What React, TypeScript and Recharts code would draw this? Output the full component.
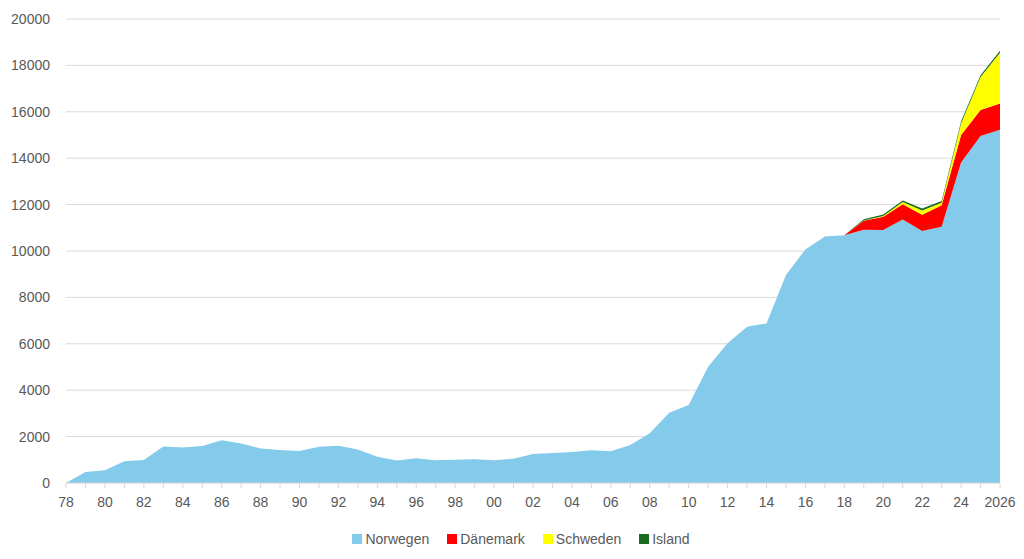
import React from 'react';
import { AreaChart, Area, XAxis, YAxis, CartesianGrid, Legend } from 'recharts';

const years = [1978,1979,1980,1981,1982,1983,1984,1985,1986,1987,1988,1989,1990,1991,1992,1993,1994,1995,1996,1997,1998,1999,2000,2001,2002,2003,2004,2005,2006,2007,2008,2009,2010,2011,2012,2013,2014,2015,2016,2017,2018,2019,2020,2021,2022,2023,2024,2025,2026];
const norwegen = [0,470,550,940,990,1570,1530,1600,1840,1700,1490,1420,1380,1565,1610,1440,1135,970,1065,980,1005,1020,985,1050,1250,1290,1335,1410,1365,1640,2140,3030,3360,5010,6020,6740,6880,8970,10070,10620,10680,10920,10900,11360,10860,11050,13820,14960,15230];
const daenemark = [0,0,0,0,0,0,0,0,0,0,0,0,0,0,0,0,0,0,0,0,0,0,0,0,0,0,0,0,0,0,0,0,0,0,0,0,0,0,0,0,0,380,580,660,700,920,1180,1120,1130];
const schweden = [0,0,0,0,0,0,0,0,0,0,0,0,0,0,0,0,0,0,0,0,0,0,0,0,0,0,0,0,0,0,0,0,0,0,0,0,0,0,0,0,0,20,30,90,190,110,500,1420,2180];
const island = [0,0,0,0,0,0,0,0,0,0,0,0,0,0,0,0,0,0,0,0,0,0,0,0,0,0,0,0,0,0,0,0,0,0,0,0,0,0,0,0,0,50,60,70,80,80,80,80,90];
const yTicks = [0,2000,4000,6000,8000,10000,12000,14000,16000,18000,20000];

const seriesNames = ['Norwegen', 'Dänemark', 'Schweden', 'Island'];
const seriesColors = ['#83CAEB', '#FF0000', '#FFFF00', '#196B24'];

const data = years.map((y, i) => ({
  year: y,
  Norwegen: norwegen[i],
  'Dänemark': daenemark[i],
  Schweden: schweden[i],
  Island: island[i],
}));

const fmtX = (v: number) => {
  if (v === 2026) return '2026';
  if (v % 2 !== 0) return '';
  return String(v % 100).padStart(2, '0');
};

const FONT = '"Liberation Sans", Arial, sans-serif';
const TXT = '#595959';

const LegendContent = () => (
  <div style={{ display: 'flex', justifyContent: 'center', fontFamily: FONT, fontSize: 14, color: TXT, paddingLeft: 34 }}>
    {seriesNames.map((n, i) => (
      <div key={n} style={{ display: 'flex', alignItems: 'center', marginRight: 18 }}>
        <div style={{ width: 10, height: 10, background: seriesColors[i], marginRight: 3 }} />
        <span>{n}</span>
      </div>
    ))}
  </div>
);

export default function App() {
  return (
    <div style={{ width: 1010, height: 545 }}>
      <AreaChart width={1010} height={545} data={data} margin={{ top: 11, right: 18, left: 0, bottom: 40 }}>
        <CartesianGrid horizontal vertical={false} stroke="#d9d9d9" />
        <XAxis
          dataKey="year"
          type="number"
          domain={[1978, 2026]}
          ticks={years}
          interval={0}
          tickFormatter={fmtX}
          height={30}
          stroke="#d9d9d9"
          tickSize={5}
          tickMargin={9}
          tick={{ fill: TXT, fontSize: 14, fontFamily: FONT }}
        />
        <YAxis
          domain={[0, 20000]}
          ticks={yTicks}
          width={58}
          axisLine={false}
          tickLine={false}
          tickSize={0}
          tickMargin={16}
          tick={{ fill: TXT, fontSize: 14, fontFamily: FONT }}
        />
        {seriesNames.map((n, i) => (
          <Area
            key={n}
            type="linear"
            dataKey={n}
            stackId="1"
            stroke="none"
            fill={seriesColors[i]}
            fillOpacity={1}
            isAnimationActive={false}
          />
        ))}
        <Legend
          verticalAlign="middle"
          align="center"
          layout="horizontal"
          content={<LegendContent />}
          wrapperStyle={{ top: 523, left: 0, width: 1010 }}
        />
      </AreaChart>
    </div>
  );
}
